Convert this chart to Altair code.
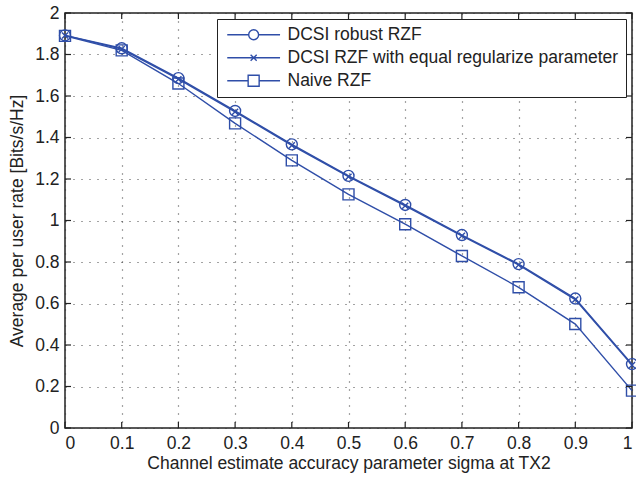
import altair as alt
import pandas as pd

# ---- data ----
sigma = [0.0, 0.1, 0.2, 0.3, 0.4, 0.5, 0.6, 0.7, 0.8, 0.9, 1.0]
robust_rzf = [1.892, 1.830, 1.686, 1.528, 1.367, 1.215, 1.075, 0.930, 0.790, 0.624, 0.308]
equal_rzf = [1.892, 1.826, 1.681, 1.524, 1.362, 1.211, 1.071, 0.926, 0.786, 0.619, 0.303]
naive_rzf = [1.890, 1.820, 1.660, 1.468, 1.290, 1.126, 0.982, 0.829, 0.678, 0.501, 0.180]
series_names = ["DCSI robust RZF", "DCSI RZF with equal regularize parameter", "Naive RZF"]
x_ticks = [0, 0.1, 0.2, 0.3, 0.4, 0.5, 0.6, 0.7, 0.8, 0.9, 1]
y_ticks = [0, 0.2, 0.4, 0.6, 0.8, 1, 1.2, 1.4, 1.6, 1.8, 2]

BLUE = "#2F4EA8"
FONT = "Liberation Sans"
FS = 17.5
W, H = 567, 415

rows = []
for name, vals in zip(series_names, [robust_rzf, equal_rzf, naive_rzf]):
    for s, v in zip(sigma, vals):
        rows.append({"sigma": s, "rate": v, "series": name})
df = pd.DataFrame(rows)

# marker shapes for the plot (unit box -1..1)
marker_paths = [
    "M1,0A1,1 0 1,1 -1,0A1,1 0 1,1 1,0Z",
    "M-0.55,-0.55L0.55,0.55M-0.55,0.55L0.55,-0.55",
    "M-1,-1L1,-1L1,1L-1,1Z",
]
# legend symbols: line segment with marker in the middle
legend_paths = [
    "M-1,0L2.9,0M4.7,0L8.6,0M4.7,0A0.9,0.9 0 1,1 2.9,0A0.9,0.9 0 1,1 4.7,0",
    "M-1,0L8.6,0M3.25,-0.55L4.35,0.55M3.25,0.55L4.35,-0.55",
    "M-1,0L2.8,0M4.8,0L8.6,0M2.8,-1L4.8,-1L4.8,1L2.8,1Z",
]

xscale = alt.Scale(domain=[0, 1], nice=False, zero=False)
yscale = alt.Scale(domain=[0, 2], nice=False, zero=False)

common_axis = dict(
    grid=True, gridDash=[1, 7], gridColor="#333", gridOpacity=0.9, gridWidth=1.2,
    ticks=False, domain=False,
    labelFont=FONT, titleFont=FONT, labelFontSize=FS, titleFontSize=FS,
    labelColor="#222", titleColor="#222", titleFontWeight="normal",
)
xaxis = alt.Axis(values=x_ticks, format="~g", title="Channel estimate accuracy parameter sigma at TX2",
                 labelPadding=6, titlePadding=3, **common_axis)
yaxis = alt.Axis(values=y_ticks, format="~g", title="Average per user rate [Bits/s/Hz]",
                 labelPadding=6, titlePadding=8, **common_axis)

base = alt.Chart(df)

lines = base.mark_line(color=BLUE, strokeWidth=1.4).encode(
    x=alt.X("sigma:Q", scale=xscale, axis=xaxis),
    y=alt.Y("rate:Q", scale=yscale, axis=yaxis),
    detail="series:N",
)

points = base.mark_point(filled=False, color=BLUE, strokeWidth=1.4, size=121, opacity=1).encode(
    x=alt.X("sigma:Q", scale=xscale),
    y=alt.Y("rate:Q", scale=yscale),
    shape=alt.Shape("series:N", scale=alt.Scale(domain=series_names, range=marker_paths), legend=None),
)

legend_layer = base.mark_point(filled=False, color=BLUE, strokeWidth=1.4, size=121, opacity=0).encode(
    x=alt.X("sigma:Q", scale=xscale),
    y=alt.Y("rate:Q", scale=yscale),
    shape=alt.Shape(
        "series:N",
        scale=alt.Scale(domain=series_names, range=legend_paths),
        legend=alt.Legend(
            title=None, orient="top-right", offset=6,
            symbolOpacity=1, symbolStrokeColor=BLUE, symbolStrokeWidth=1.4,
            symbolFillColor="transparent", symbolSize=121,
            labelFont=FONT, labelFontSize=FS, labelColor="#222", labelOffset=46,
            rowPadding=4, padding=7, strokeColor="#222", fillColor="white",
            cornerRadius=0, labelLimit=500,
        ),
    ),
)

tick_x = pd.DataFrame({"t": x_ticks})
tick_y = pd.DataFrame({"t": y_ticks})
bottom_ticks = alt.Chart(tick_x).mark_rule(color="#222", strokeWidth=1.2).encode(
    x=alt.X("t:Q", scale=xscale), y=alt.value(H), y2=alt.value(H - 6))
top_ticks = alt.Chart(tick_x).mark_rule(color="#222", strokeWidth=1.2).encode(
    x=alt.X("t:Q", scale=xscale), y=alt.value(0), y2=alt.value(6))
left_ticks = alt.Chart(tick_y).mark_rule(color="#222", strokeWidth=1.2).encode(
    y=alt.Y("t:Q", scale=yscale), x=alt.value(0), x2=alt.value(6))
right_ticks = alt.Chart(tick_y).mark_rule(color="#222", strokeWidth=1.2).encode(
    y=alt.Y("t:Q", scale=yscale), x=alt.value(W), x2=alt.value(W - 6))

chart = alt.layer(
    lines, points, legend_layer, bottom_ticks, top_ticks, left_ticks, right_ticks
).resolve_scale(shape="independent").resolve_legend(shape="independent").properties(
    width=W, height=H,
    autosize=alt.AutoSizeParams(type="none"),
    padding={"left": 65, "top": 13, "right": 4, "bottom": 49},
    background="white",
).configure_view(
    stroke="#222", strokeWidth=1.5
)

chart.save("out.html", embed_options={"renderer": "svg", "actions": False})
